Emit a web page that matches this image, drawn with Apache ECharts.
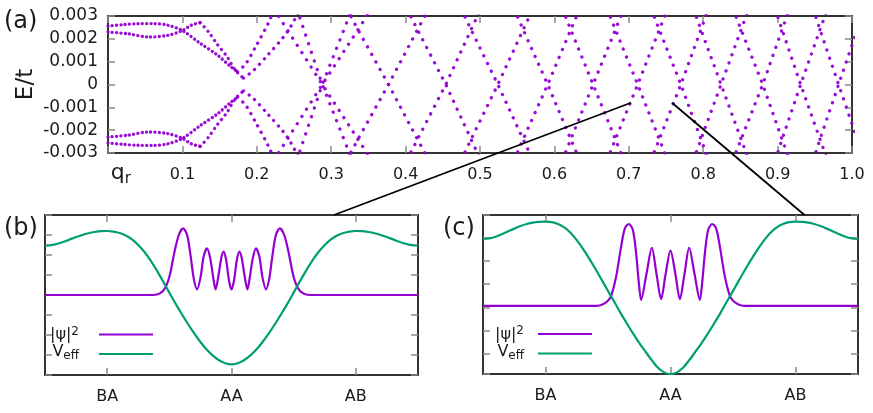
<!DOCTYPE html>
<html>
<head>
<meta charset="utf-8">
<script src="https://cdn.jsdelivr.net/npm/echarts@6.0.0/dist/echarts.min.js"></script>
<style>
html,body{margin:0;padding:0;background:#fff;}
#chart{width:873px;height:413px;}
</style>
</head>
<body>
<div id="chart"></div>
<script>
// ================= Panel (a): E/t versus q_r =================
// q where the straight bands cross at E = 0
const crossQ  = [0.288, 0.377, 0.454, 0.524, 0.591, 0.652, 0.712, 0.770, 0.824, 0.880, 0.931, 0.982];
// q where the bands cross at E = +/- turnE
const turnQ   = [0.241, 0.336, 0.416, 0.488, 0.558, 0.622, 0.682, 0.741, 0.797, 0.851, 0.906, 0.957, 1.007];
// q where each band leaves the frame below / above
const edgeLoQ = [0.223, 0.321, 0.402, 0.475, 0.546, 0.611, 0.671, 0.730, 0.787, 0.840, 0.897, 0.948];
const edgeHiQ = [0.354, 0.431, 0.501, 0.571, 0.634, 0.693, 0.752, 0.807, 0.861, 0.916, 0.967, 1.016];
const turnE = 0.0024;
const edgeE = 0.0033;

// low-q bands (upper half)
const u1Flat = [[0,0.00256],[0.02,0.00262],[0.04,0.00266],[0.06,0.00267],[0.08,0.0026],[0.1,0.00236],[0.124,0.0018],[0.147,0.00129],[0.165,0.00078],[0.174,0.00056]];
const u1Rise = [[0.174,0.00056],[0.185,0.0009],[0.198,0.00163],[0.216,0.00272],[0.223,0.0033]];
const u2Flat = [[0,0.0023],[0.027,0.00222],[0.054,0.00208],[0.08,0.00215],[0.1,0.00236],[0.112,0.0026],[0.124,0.00271]];
const u2Fall = [[0.124,0.00271],[0.135,0.00231],[0.146,0.0018],[0.16,0.00122],[0.171,0.00063],[0.182,0.00028]];
const u2Rise = [[0.182,0.00028],[0.195,0.0006],[0.215,0.0013],[0.241,0.0023],[0.258,0.0033]];
// low-q bands (lower half)
const l1Flat = [[0,-0.00256],[0.02,-0.00262],[0.04,-0.00266],[0.06,-0.00267],[0.08,-0.0026],[0.1,-0.00236],[0.124,-0.0018],[0.147,-0.00129],[0.165,-0.00078],[0.174,-0.00056]];
const l1Rise = [[0.174,-0.00056],[0.185,-0.0009],[0.198,-0.00163],[0.216,-0.00272],[0.223,-0.0033]];
const l2Flat = [[0,-0.0023],[0.027,-0.00222],[0.054,-0.00208],[0.08,-0.00215],[0.1,-0.00236],[0.112,-0.0026],[0.124,-0.00271]];
const l2Fall = [[0.124,-0.00271],[0.135,-0.00231],[0.146,-0.0018],[0.16,-0.00122],[0.171,-0.00063],[0.182,-0.00028]];
const l2Rise = [[0.182,-0.00028],[0.195,-0.0006],[0.215,-0.0013],[0.241,-0.0023],[0.258,-0.0033]];
// steep pair through the first zero crossing
const steepUp   = [[0.254,-0.0033],[0.288,0],[0.328,0.0033]];
const steepDown = [[0.254,0.0033],[0.288,0],[0.328,-0.0033]];

// ================= Panels (b) and (c) =================
const stackLabels = ['BA', 'AA', 'AB'];
const psiB = [[-1.5,4.0],[-1.0,4.0],[-0.7,4.0],[-0.63,4.0],[-0.576,4.08],[-0.531,4.38],[-0.496,5.0],[-0.461,6.08],[-0.424,7.0],[-0.389,7.33],[-0.357,7.0],[-0.328,5.92],[-0.304,4.83],[-0.277,4.28],[-0.248,4.92],[-0.224,5.92],[-0.197,6.33],[-0.171,5.83],[-0.144,4.75],[-0.128,4.28],[-0.104,5.0],[-0.083,5.83],[-0.064,6.17],[-0.043,5.75],[-0.021,4.75],[0,4.28],
  [0.021,4.75],[0.043,5.75],[0.064,6.17],[0.083,5.83],[0.104,5.0],[0.128,4.28],[0.144,4.75],[0.171,5.83],[0.197,6.33],[0.224,5.92],[0.248,4.92],[0.277,4.28],[0.304,4.83],[0.328,5.92],[0.357,7.0],[0.389,7.33],[0.424,7.0],[0.461,6.08],[0.496,5.0],[0.531,4.38],[0.576,4.08],[0.63,4.0],[0.7,4.0],[1.0,4.0],[1.5,4.0]];
const veffB = [[-1.5,6.47],[-1.45,6.49],[-1.4,6.56],[-1.35,6.66],[-1.3,6.78],[-1.25,6.9],[-1.2,7.0],[-1.15,7.09],[-1.1,7.15],[-1.05,7.19],[-1.0,7.2],
  [-0.95,7.17],[-0.9,7.1],[-0.85,6.98],[-0.8,6.78],[-0.75,6.5],[-0.7,6.15],[-0.65,5.72],[-0.6,5.22],[-0.55,4.68],[-0.5,4.12],[-0.45,3.57],[-0.4,3.05],[-0.35,2.55],[-0.3,2.08],[-0.25,1.65],[-0.2,1.27],[-0.15,0.97],[-0.1,0.74],[-0.05,0.59],[0,0.53],
  [0.05,0.59],[0.1,0.74],[0.15,0.97],[0.2,1.27],[0.25,1.65],[0.3,2.08],[0.35,2.55],[0.4,3.05],[0.45,3.57],[0.5,4.12],[0.55,4.68],[0.6,5.22],[0.65,5.72],[0.7,6.15],[0.75,6.5],[0.8,6.78],[0.85,6.98],[0.9,7.1],[0.95,7.17],
  [1.0,7.2],[1.05,7.19],[1.1,7.15],[1.15,7.09],[1.2,7.0],[1.25,6.9],[1.3,6.78],[1.35,6.66],[1.4,6.56],[1.45,6.49],[1.5,6.47]];
const psiC = [[-1.5,2.95],[-1.0,2.95],[-0.6,2.95],[-0.56,2.98],[-0.528,3.06],[-0.5,3.18],[-0.475,3.38],[-0.435,4.22],[-0.395,5.52],[-0.365,6.31],[-0.333,6.5],[-0.301,6.24],[-0.275,5.23],[-0.253,3.93],[-0.235,3.21],[-0.192,4.34],[-0.149,5.47],[-0.112,4.34],[-0.075,3.24],[-0.04,4.3],[0,5.35],
  [0.04,4.3],[0.075,3.24],[0.112,4.34],[0.149,5.47],[0.192,4.34],[0.235,3.21],[0.253,3.93],[0.275,5.23],[0.301,6.24],[0.333,6.5],[0.365,6.31],[0.395,5.52],[0.435,4.22],[0.475,3.38],[0.5,3.18],[0.528,3.06],[0.56,2.98],[0.6,2.95],[1.0,2.95],[1.5,2.95]];
const veffC = [[-1.5,5.85],[-1.45,5.88],[-1.4,5.95],[-1.35,6.06],[-1.3,6.18],[-1.25,6.3],[-1.2,6.41],[-1.15,6.5],[-1.1,6.56],[-1.05,6.59],[-1.0,6.6],
  [-0.95,6.58],[-0.9,6.5],[-0.85,6.35],[-0.8,6.12],[-0.75,5.8],[-0.7,5.42],[-0.65,5.0],[-0.6,4.55],[-0.55,4.08],[-0.5,3.6],[-0.45,3.13],[-0.4,2.65],[-0.35,2.2],[-0.3,1.76],[-0.25,1.35],[-0.2,0.97],[-0.15,0.6],[-0.1,0.27],[-0.05,0.07],[0,0],
  [0.05,0.07],[0.1,0.27],[0.15,0.6],[0.2,0.97],[0.25,1.35],[0.3,1.76],[0.35,2.2],[0.4,2.65],[0.45,3.13],[0.5,3.6],[0.55,4.08],[0.6,4.55],[0.65,5.0],[0.7,5.42],[0.75,5.8],[0.8,6.12],[0.85,6.35],[0.9,6.5],[0.95,6.58],
  [1.0,6.6],[1.05,6.59],[1.1,6.56],[1.15,6.5],[1.2,6.41],[1.25,6.3],[1.3,6.18],[1.35,6.06],[1.4,5.95],[1.45,5.88],[1.5,5.85]];

// connector lines: point in (a) -> top of (b) / (c)
const linkToB = [[0.703,-0.0008],[0.824,8]];
const linkToC = [[0.758,-0.0008],[1.072,6.89]];

// ================= styling & build =================
const FONT = 'DejaVu Sans';
const PURPLE = '#9400d3', GREEN = '#009e73', TXT = '#1a1a1a', TICK = '#8a8a8a', FRAME = '#333333';
const tick = {show:true, inside:true, length:7, lineStyle:{color:TICK, width:1.5}};
const noLine = {show:false, onZero:false};
const gridBase = {show:true, borderColor:FRAME, borderWidth:2, backgroundColor:'transparent', outerBoundsMode:'none', containLabel:false};

function dotted(data, gap, smooth) {
  return {type:'line', xAxisIndex:0, yAxisIndex:0, data:data, symbol:'none', smooth:smooth || false,
    silent:true, animation:false, clip:true,
    lineStyle:{color:PURPLE, width:3.3, type:[0.1, gap], cap:'round', opacity:0.95}};
}
const series = [];
[u1Flat, u2Flat, l1Flat, l2Flat].forEach(d => series.push(dotted(d, 4.2, 0.3)));
[u2Fall, l2Fall].forEach(d => series.push(dotted(d, 5.6, 0.3)));
[u1Rise, u2Rise, l1Rise, l2Rise].forEach(d => series.push(dotted(d, 7, 0.3)));
[steepUp, steepDown].forEach(d => series.push(dotted(d, 9)));
crossQ.forEach((c, i) => {
  series.push(dotted([[edgeLoQ[i],-edgeE],[turnQ[i],-turnE],[c,0],[turnQ[i+1],turnE],[edgeHiQ[i],edgeE]], 8.5));
  series.push(dotted([[edgeLoQ[i],edgeE],[turnQ[i],turnE],[c,0],[turnQ[i+1],-turnE],[edgeHiQ[i],-edgeE]], 8.5));
});
function curve(name, data, color, xi, yi) {
  return {type:'line', name:name, xAxisIndex:xi, yAxisIndex:yi, data:data, symbol:'none', smooth:0.3,
    silent:true, animation:false, lineStyle:{color:color, width:2.2}, itemStyle:{color:color}};
}
series.push(curve('psi', psiB, PURPLE, 2, 2), curve('Veff', veffB, GREEN, 2, 2));
series.push(curve('psi', psiC, PURPLE, 5, 4), curve('Veff', veffC, GREEN, 5, 4));

const legendRich = {
  a:{fontFamily:FONT, fontSize:16, color:TXT, lineHeight:18, padding:[1,0,0,0]},
  sup:{fontFamily:FONT, fontSize:12, color:TXT, lineHeight:12, verticalAlign:'top'},
  b:{fontFamily:FONT, fontSize:16, color:TXT, lineHeight:16, padding:[0,0,4,0]},
  sub:{fontFamily:FONT, fontSize:12, color:TXT, lineHeight:12, verticalAlign:'bottom'}
};
function legendAt(left, top, gapRight) {
  return {data:['psi','Veff'], orient:'vertical', left:left, top:top, align:'right', icon:'rect',
    itemWidth:54, itemHeight:2.2, itemGap:1, padding:0, selectedMode:false,
    formatter: n => n === 'Veff' ? '{b|V}{sub|eff}' : '{a||\u03c8|}{sup|2}',
    textStyle:{fontFamily:FONT, fontSize:16, color:TXT, padding:[0,gapRight,0,0], rich:legendRich}};
}
const titleStyle = {fontFamily:FONT, fontSize:24, fontWeight:'normal', color:TXT, lineHeight:26};

const option = {
  animation:false,
  backgroundColor:'#ffffff',
  textStyle:{fontFamily:FONT},
  title:[
    {text:'(a)', left:4, top:9, padding:0, textStyle:titleStyle},
    {text:'(b)', left:4, top:216, padding:0, textStyle:titleStyle},
    {text:'(c)', left:443, top:216, padding:0, textStyle:titleStyle}
  ],
  legend:[legendAt(50, 325.5, 15), legendAt(495, 325, 9)],
  grid:[
    Object.assign({left:108, top:16, width:744, height:137}, gridBase),
    Object.assign({left:45, top:215, width:373, height:160}, gridBase),
    Object.assign({left:483, top:215, width:375, height:159}, gridBase)
  ],
  xAxis:[
    {type:'value', gridIndex:0, position:'bottom', min:0, max:1, interval:0.1, axisLine:noLine, splitLine:{show:false}, axisTick:tick,
     axisLabel:{fontFamily:FONT, fontSize:16, color:TXT, margin:14, showMinLabel:true, showMaxLabel:true,
       formatter: v => Math.abs(v) < 1e-9 ? '' : v.toFixed(1)},
     name:'{q|q}{r|r}', nameLocation:'start', nameGap:-23, nameMoveOverlap:false,
     nameTextStyle:{padding:[46,0,0,0], rich:{
       q:{fontFamily:FONT, fontSize:22, color:TXT, lineHeight:22, padding:[0,0,5,0]},
       r:{fontFamily:FONT, fontSize:15, color:TXT, lineHeight:15, verticalAlign:'bottom'}}}},
    {type:'value', gridIndex:0, position:'top', min:0, max:1, interval:0.1, axisLine:noLine, splitLine:{show:false}, axisTick:tick, axisLabel:{show:false}},
    {type:'value', gridIndex:1, min:-1.5, max:1.5, show:false, axisLine:noLine},
    {type:'category', gridIndex:1, position:'bottom', data:stackLabels, boundaryGap:true, axisLine:noLine,
     axisTick:Object.assign({alignWithLabel:true, interval:0}, tick),
     axisLabel:{fontFamily:FONT, fontSize:16, color:TXT, margin:14, interval:0}},
    {type:'category', gridIndex:1, position:'top', data:stackLabels, boundaryGap:true, axisLine:noLine,
     axisTick:Object.assign({alignWithLabel:true, interval:0}, tick), axisLabel:{show:false}},
    {type:'value', gridIndex:2, min:-1.5, max:1.5, show:false, axisLine:noLine},
    {type:'category', gridIndex:2, position:'bottom', data:stackLabels, boundaryGap:true, axisLine:noLine,
     axisTick:Object.assign({alignWithLabel:true, interval:0}, tick),
     axisLabel:{fontFamily:FONT, fontSize:16, color:TXT, margin:14, interval:0}},
    {type:'category', gridIndex:2, position:'top', data:stackLabels, boundaryGap:true, axisLine:noLine,
     axisTick:Object.assign({alignWithLabel:true, interval:0}, tick), axisLabel:{show:false}}
  ],
  yAxis:[
    {type:'value', gridIndex:0, position:'left', min:-0.003, max:0.003, interval:0.001, axisLine:noLine, splitLine:{show:false}, axisTick:tick,
     axisLabel:{fontFamily:FONT, fontSize:17, color:TXT, margin:10, showMinLabel:true, showMaxLabel:true,
       formatter: v => Math.abs(v) < 1e-9 ? '0' : v.toFixed(3)},
     name:'E/t', nameLocation:'middle', nameGap:70, nameMoveOverlap:false,
     nameTextStyle:{fontFamily:FONT, fontSize:23, color:TXT}},
    {type:'value', gridIndex:0, position:'right', min:-0.003, max:0.003, interval:0.001, axisLine:noLine, splitLine:{show:false}, axisTick:tick, axisLabel:{show:false}},
    {type:'value', gridIndex:1, position:'left', min:0, max:8, interval:1, axisLine:noLine, splitLine:{show:false}, axisTick:tick, axisLabel:{show:false}},
    {type:'value', gridIndex:1, position:'right', min:0, max:8, interval:1, axisLine:noLine, splitLine:{show:false}, axisTick:tick, axisLabel:{show:false}},
    {type:'value', gridIndex:2, min:0, max:6.89, show:false, axisLine:noLine},
    {type:'value', gridIndex:2, position:'left', inverse:true, min:0, max:6.89, interval:1, axisLine:noLine, splitLine:{show:false}, axisTick:tick, axisLabel:{show:false}},
    {type:'value', gridIndex:2, position:'right', inverse:true, min:0, max:6.89, interval:1, axisLine:noLine, splitLine:{show:false}, axisTick:tick, axisLabel:{show:false}}
  ],
  series:series
};

const chart = echarts.init(document.getElementById('chart'), null, {renderer:'canvas'});
chart.setOption(option);

function connector(link, finder) {
  const p0 = chart.convertToPixel({xAxisIndex:0, yAxisIndex:0}, link[0]);
  const p1 = chart.convertToPixel(finder, link[1]);
  return {type:'line', silent:true, z:100, shape:{x1:p0[0], y1:p0[1], x2:p1[0], y2:p1[1]},
          style:{stroke:'#000', lineWidth:1.8}};
}
chart.setOption({graphic:[
  connector(linkToB, {xAxisIndex:2, yAxisIndex:2}),
  connector(linkToC, {xAxisIndex:5, yAxisIndex:4})
]});
</script>
</body>
</html>
